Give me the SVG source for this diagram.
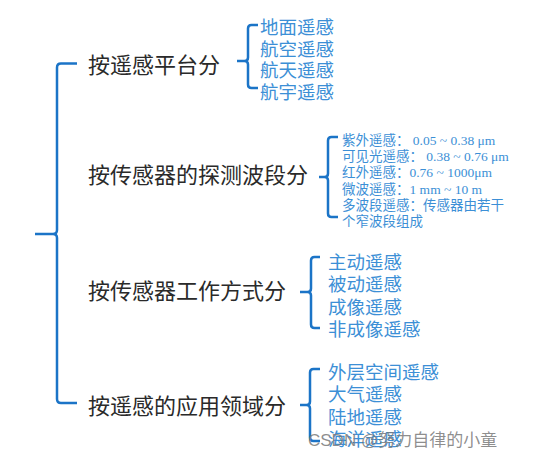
<svg xmlns="http://www.w3.org/2000/svg" width="534" height="457" viewBox="0 0 534 457">
<style>
.br{fill:none;stroke:#1b74c7;stroke-width:2.5;stroke-linecap:butt;stroke-linejoin:round}
.main{font-family:"Liberation Sans","Noto Sans CJK SC",sans-serif;font-size:22px;fill:#2a2a2a}
.sub{font-family:"Liberation Sans","Noto Sans CJK SC",sans-serif;font-size:18.5px;fill:#3c8fd6}
.sm{font-family:"Liberation Serif","Noto Sans CJK SC",serif;font-size:13.5px;fill:#3c8fd6}
.wm{font-family:"Liberation Sans","Noto Sans CJK SC",sans-serif;font-size:17px;fill:#7a7a7a;fill-opacity:0.85}
</style>
<rect width="534" height="457" fill="#fff"/>
<g id="connectors">
<path class="br" d="M77 63.5 H61 Q57 63.5 57 67.5 V230 Q57 234 53 234 H35 M53 234 Q57 234 57 238 V399 Q57 403 61 403 H77"/>
<path class="br" d="M258 25 H251.5 Q248 25 248 28.5 V57.5 Q248 61 244.5 61 H237 M244.5 61 Q248 61 248 64.5 V84.5 Q248 88 251.5 88 H258"/>
<path class="br" d="M338 137 H331.5 Q328 137 328 140.5 V173.5 Q328 177 324.5 177 H319 M324.5 177 Q328 177 328 180.5 V213.5 Q328 217 331.5 217 H338"/>
<path class="br" d="M320 257 H314.5 Q311 257 311 260.5 V288.5 Q311 292 307.5 292 H300 M307.5 292 Q311 292 311 295.5 V324.5 Q311 328 314.5 328 H320"/>
<path class="br" d="M320 369 H313.5 Q310 369 310 372.5 V401.5 Q310 405 306.5 405 H300 M306.5 405 Q310 405 310 408.5 V437.5 Q310 441 313.5 441 H320"/>
</g>
<g id="n1">
<text class="main" x="88" y="73">按遥感平台分</text>
<text class="sub" x="260" y="34">地面遥感</text>
<text class="sub" x="260" y="55.5">航空遥感</text>
<text class="sub" x="260" y="77">航天遥感</text>
<text class="sub" x="260" y="99">航宇遥感</text>
</g>
<g id="n2">
<text class="main" x="88" y="183">按传感器的探测波段分</text>
<text class="sm" x="342" y="145">紫外遥感： 0.05 ~ 0.38 μm</text>
<text class="sm" x="342" y="161">可见光遥感： 0.38 ~ 0.76 μm</text>
<text class="sm" x="342" y="177">红外遥感：0.76 ~ 1000μm</text>
<text class="sm" x="342" y="194">微波遥感：1 mm ~ 10 m</text>
<text class="sm" x="342" y="210">多波段遥感：传感器由若干</text>
<text class="sm" x="342" y="226">个窄波段组成</text>
</g>
<g id="n3">
<text class="main" x="88" y="299">按传感器工作方式分</text>
<text class="sub" x="328" y="269">主动遥感</text>
<text class="sub" x="328" y="291">被动遥感</text>
<text class="sub" x="328" y="314">成像遥感</text>
<text class="sub" x="328" y="336">非成像遥感</text>
</g>
<g id="n4">
<text class="main" x="88" y="414">按遥感的应用领域分</text>
<text class="sub" x="328" y="379">外层空间遥感</text>
<text class="sub" x="328" y="401">大气遥感</text>
<text class="sub" x="328" y="424">陆地遥感</text>
<text class="sub" x="328" y="446">海洋遥感</text>
</g>
<text class="wm" x="308" y="446">CSDN @努力自律的小童</text>
</svg>
